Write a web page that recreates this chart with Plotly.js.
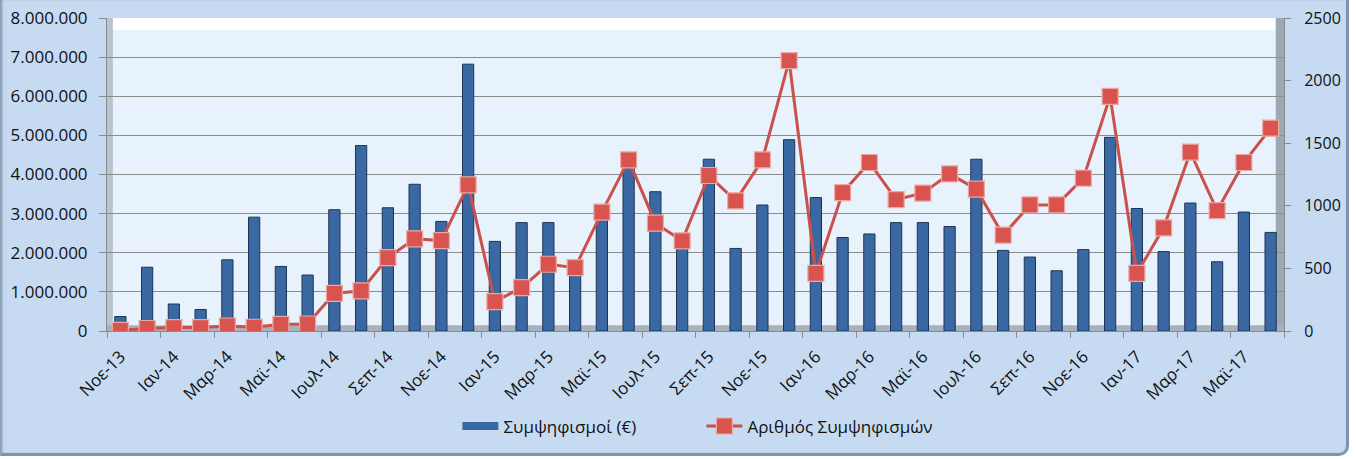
<!DOCTYPE html>
<html>
<head>
<meta charset="utf-8">
<script src="https://cdn.plot.ly/plotly-3.0.1.min.js"></script>
<style>
  html, body { margin: 0; padding: 0; background: #ffffff; }
  #frame {
    position: absolute; left: 0; top: 0; width: 1344px; height: 453px;
    background: #C6DBF1; border-radius: 0 0 10px 0;
    border-left: 2px solid #8FA3BC; border-bottom: 3px solid #7F93AC; border-right: 3px solid #7F93AC;
    box-shadow: inset 1px 0 2px rgba(0,0,0,0.15);
  }
  #chart { position: absolute; left: 0; top: 0; width: 1356px; height: 459px; }
</style>
</head>
<body>
<div id="frame"></div>
<div id="chart"></div>
<script>
// Categories (months)
const months = [
  "Νοε-13","Δεκ-13",
  "Ιαν-14","Φεβ-14","Μαρ-14","Απρ-14","Μαϊ-14","Ιουν-14","Ιουλ-14","Αυγ-14","Σεπ-14","Οκτ-14","Νοε-14","Δεκ-14",
  "Ιαν-15","Φεβ-15","Μαρ-15","Απρ-15","Μαϊ-15","Ιουν-15","Ιουλ-15","Αυγ-15","Σεπ-15","Οκτ-15","Νοε-15","Δεκ-15",
  "Ιαν-16","Φεβ-16","Μαρ-16","Απρ-16","Μαϊ-16","Ιουν-16","Ιουλ-16","Αυγ-16","Σεπ-16","Οκτ-16","Νοε-16","Δεκ-16",
  "Ιαν-17","Φεβ-17","Μαρ-17","Απρ-17","Μαϊ-17","Ιουν-17"
];

// Συμψηφισμοί (€) – left axis
const amounts = [
  370000, 1630000,
  690000, 550000, 1820000, 2910000, 1650000, 1430000, 3100000, 4740000, 3150000, 3750000, 2800000, 6820000,
  2290000, 2770000, 2770000, 1650000, 2950000, 4250000, 3560000, 2250000, 4390000, 2110000, 3220000, 4890000,
  3410000, 2390000, 2480000, 2770000, 2770000, 2670000, 4390000, 2060000, 1890000, 1540000, 2080000, 4950000,
  3130000, 2030000, 3270000, 1770000, 3040000, 2520000
];

// Αριθμός Συμψηφισμών – right axis
const counts = [
  5, 20,
  27, 27, 40, 30, 53, 56, 301, 320, 586, 736, 722, 1167,
  235, 346, 533, 506, 949, 1367, 861, 720, 1242, 1039, 1367, 2159,
  461, 1106, 1346, 1050, 1101, 1255, 1133, 765, 1007, 1007, 1221, 1874,
  461, 824, 1429, 962, 1346, 1620
];

const barName = "Συμψηφισμοί (€)";
const lineName = "Αριθμός Συμψηφισμών";

const fontFam = "'Open Sans', 'Noto Sans', sans-serif";
const barColor = "#3A68A2";

const traces = [
  {
    type: "bar", name: barName, x: months, y: amounts, yaxis: "y",
    marker: { color: barColor, line: { color: "#1C3557", width: 1 } },
    showlegend: false, legendgroup: "bars"
  },
  // legend-only entry giving the bar series a wide rectangular key, as in the original
  {
    type: "scatter", mode: "lines", name: barName, x: [null], y: [null], yaxis: "y",
    line: { color: barColor, width: 8 }, legendgroup: "bars", hoverinfo: "skip"
  },
  {
    type: "scatter", mode: "lines+markers", name: lineName, x: months, y: counts, yaxis: "y2",
    line: { color: "#C9504C", width: 3 },
    marker: { symbol: "square", size: 16, color: "#D9544F", line: { color: "#EBA8A5", width: 1.2 } }
  }
];

const layout = {
  width: 1356, height: 459,
  margin: { l: 107, r: 72, t: 18, b: 128 },
  paper_bgcolor: "rgba(0,0,0,0)",
  plot_bgcolor: "#E8F2FC",
  separators: ",.",
  font: { family: fontFam, size: 15, color: "#111111" },
  bargap: 0.58,
  showlegend: true,
  legend: {
    orientation: "h", x: 0.505, xanchor: "center", y: -0.305, yanchor: "middle",
    font: { family: fontFam, size: 17, color: "#111111" },
    bgcolor: "rgba(0,0,0,0)", entrywidth: 193, itemwidth: 36
  },
  xaxis: {
    type: "category", dtick: 2, tickangle: -45,
    tickson: "boundaries", ticks: "outside", ticklen: 6, tickcolor: "#8A8A8A",
    showline: true, linecolor: "#8A8A8A", linewidth: 1,
    showgrid: false, tickfont: { family: fontFam, size: 17 },
    ticklabelstandoff: 8,
    range: [-0.5, 43.5]
  },
  yaxis: {
    range: [0, 8000000], dtick: 1000000, tickformat: ",d",
    ticks: "outside", ticklen: 7, tickcolor: "#8A8A8A",
    showline: true, linecolor: "#8A8A8A", linewidth: 1,
    gridcolor: "#8C8C8C", gridwidth: 1, zeroline: false,
    tickfont: { family: fontFam, size: 17 }, ticklabelstandoff: 8
  },
  yaxis2: {
    overlaying: "y", side: "right", range: [0, 2500], dtick: 500, tickformat: "d",
    ticks: "outside", ticklen: 6, tickcolor: "#8A8A8A",
    showline: true, linecolor: "#8A8A8A", linewidth: 1,
    showgrid: false, zeroline: false,
    tickfont: { family: fontFam, size: 16 }, ticklabelstandoff: 10
  },
  shapes: [
    { type: "rect", xref: "paper", yref: "paper", x0: 0, x1: 1, y0: 0.962, y1: 1, fillcolor: "#FFFFFF", line: { width: 0 }, layer: "below" },
    { type: "rect", xref: "paper", yref: "paper", x0: 0, x1: 0.005, y0: 0, y1: 1, fillcolor: "#B9C4D0", line: { width: 0 }, layer: "below" },
    { type: "rect", xref: "paper", yref: "paper", x0: 0.993, x1: 1, y0: 0, y1: 1, fillcolor: "#9EA8B3", line: { width: 0 }, layer: "below" },
    { type: "rect", xref: "paper", yref: "paper", x0: 0, x1: 1, y0: 0, y1: 0.018, fillcolor: "#A9B2BC", line: { width: 0 }, layer: "below" }
  ]
};

Plotly.newPlot("chart", traces, layout, { displayModeBar: false, staticPlot: true });
</script>
</body>
</html>
